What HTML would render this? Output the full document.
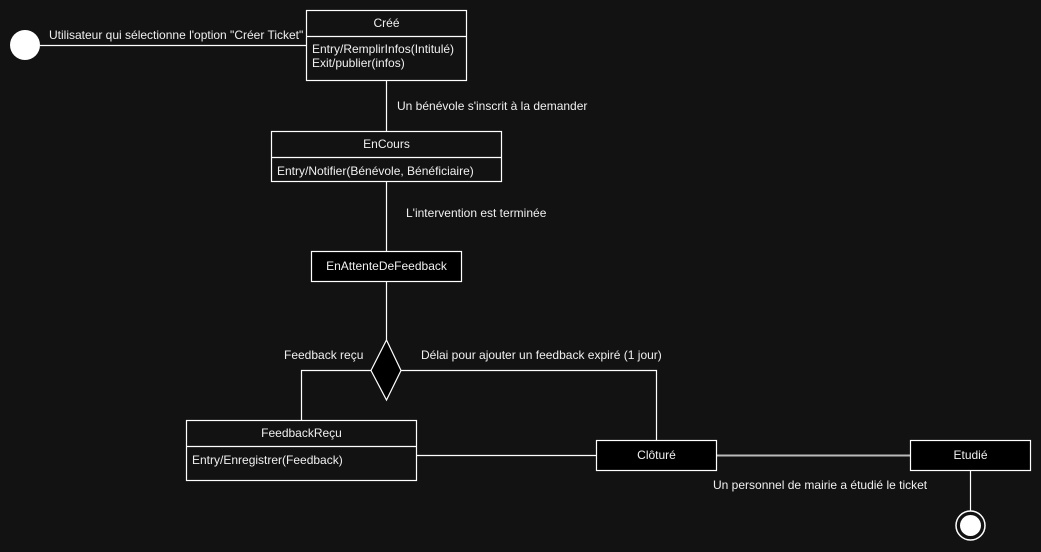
<!DOCTYPE html>
<html><head><meta charset="utf-8"><style>
html,body{margin:0;padding:0;background:#121212;}
svg{display:block}
text{font-family:"Liberation Sans",Arial,sans-serif;font-size:12px;fill:#f0f0f0}
</style></head><body>
<svg width="1041" height="552" viewBox="0 0 1041 552">
<rect width="1041" height="552" fill="#121212"/>
<g stroke="#fff" stroke-width="1.2" fill="none">
<line x1="40" y1="45.5" x2="306" y2="45.5"/>
<line x1="386.5" y1="80" x2="386.5" y2="131"/>
<line x1="386.5" y1="181" x2="386.5" y2="251"/>
<line x1="386.5" y1="281" x2="386.5" y2="340"/>
<polyline points="371,370.5 301.5,370.5 301.5,420"/>
<polyline points="401,370.5 656.5,370.5 656.5,440"/>
<line x1="416" y1="455.5" x2="596" y2="455.5"/>
<line x1="716" y1="455.5" x2="910" y2="455.5" stroke="#bbb" stroke-width="2"/>
<line x1="970.5" y1="470" x2="970.5" y2="511"/>
</g>
<circle cx="25" cy="45" r="15" fill="#fff"/>
<g stroke="#fff" stroke-width="1.2">
<rect x="306.5" y="10.5" width="160" height="70" fill="#121212"/>
<line x1="306.5" y1="36.5" x2="466.5" y2="36.5"/>
<rect x="271.5" y="131.5" width="230" height="50" fill="#121212"/>
<line x1="271.5" y1="157.5" x2="501.5" y2="157.5"/>
<rect x="311.5" y="251.5" width="150" height="30" fill="#000"/>
<polygon points="386.5,340 401,370.5 386.5,400 371,370.5" fill="#000"/>
<rect x="186.5" y="420.5" width="230" height="60" fill="#121212"/>
<line x1="186.5" y1="446.5" x2="416.5" y2="446.5"/>
<rect x="596.5" y="440.5" width="120" height="30" fill="#000"/>
<rect x="910.5" y="440.5" width="120" height="30" fill="#000"/>
</g>
<circle cx="970.5" cy="525.5" r="14.5" fill="#121212" stroke="#fff" stroke-width="1.5"/>
<circle cx="970.5" cy="525.5" r="10.5" fill="#fff"/>
<text x="49" y="39">Utilisateur qui sélectionne l'option "Créer Ticket"</text>
<text x="386.5" y="27" text-anchor="middle">Créé</text>
<text x="312" y="53">Entry/RemplirInfos(Intitulé)</text>
<text x="312" y="67">Exit/publier(infos)</text>
<text x="397" y="110">Un bénévole s'inscrit à la demander</text>
<text x="386.5" y="148" text-anchor="middle">EnCours</text>
<text x="277" y="175">Entry/Notifier(Bénévole, Bénéficiaire)</text>
<text x="406" y="217">L'intervention est terminée</text>
<text x="386.5" y="270" text-anchor="middle">EnAttenteDeFeedback</text>
<text x="284" y="359">Feedback reçu</text>
<text x="421" y="359">Délai pour ajouter un feedback expiré (1 jour)</text>
<text x="301.5" y="437" text-anchor="middle">FeedbackReçu</text>
<text x="192" y="464">Entry/Enregistrer(Feedback)</text>
<text x="656.5" y="459" text-anchor="middle">Clôturé</text>
<text x="970.5" y="459" text-anchor="middle">Etudié</text>
<text x="713" y="489">Un personnel de mairie a étudié le ticket</text>
</svg>
</body></html>
